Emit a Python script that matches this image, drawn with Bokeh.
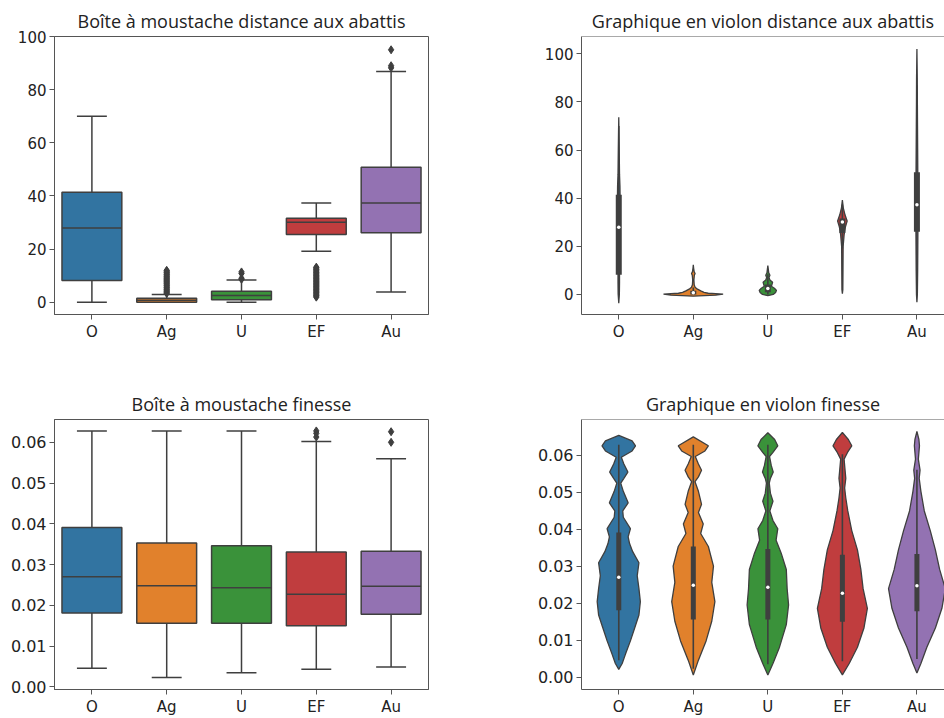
from bokeh.plotting import figure
from bokeh.layouts import column, row
from bokeh.models import FixedTicker, PrintfTickFormatter, Span, Range1d
from bokeh.embed import file_html
from bokeh.resources import INLINE

# ---------------- data ----------------
categories = ["O", "Ag", "U", "EF", "Au"]

# distance aux abattis - box statistics
dist_whislo = [0.0, 0.0, 0.0, 19.2, 3.8]
dist_q1 = [8.2, 0.0, 0.9, 25.5, 26.1]
dist_med = [27.9, 0.75, 2.5, 30.1, 37.3]
dist_q3 = [41.4, 1.5, 4.1, 31.6, 50.8]
dist_whishi = [70.0, 2.9, 8.4, 37.3, 86.8]
dist_fliers_O = []
dist_fliers_Ag = [3.3, 3.6, 4.0, 4.3, 4.7, 5.0, 5.4, 5.7, 6.1, 6.4, 6.8, 7.1, 7.5, 7.8,
                  8.2, 8.5, 8.9, 9.2, 9.6, 9.9, 10.3, 10.6, 11.0, 11.3, 11.7, 12.0]
dist_fliers_U = [8.6, 9.0, 10.8, 11.4]
dist_fliers_EF = [1.9, 2.3, 2.6, 3.0, 3.4, 3.7, 4.1, 4.5, 4.8, 5.2, 5.6, 5.9, 6.3, 6.7,
                  7.0, 7.4, 7.8, 8.1, 8.5, 8.9, 9.2, 9.6, 10.0, 10.3, 10.7, 11.1, 11.4,
                  11.8, 12.2, 12.5, 12.9, 13.2]
dist_fliers_Au = [88.2, 89.0, 95.0]

# finesse - box statistics
fin_whislo = [0.0046, 0.0023, 0.0035, 0.0043, 0.0049]
fin_q1 = [0.0181, 0.0156, 0.0156, 0.0150, 0.0178]
fin_med = [0.0270, 0.0248, 0.0243, 0.0227, 0.0247]
fin_q3 = [0.0391, 0.0353, 0.0346, 0.0331, 0.0333]
fin_whishi = [0.0628, 0.0628, 0.0628, 0.0602, 0.0560]
fin_fliers_O = []
fin_fliers_Ag = []
fin_fliers_U = []
fin_fliers_EF = [0.0613, 0.0622, 0.0628]
fin_fliers_Au = [0.0600, 0.0626]

# violin density profiles (relative half-widths) - distance
vd_O_y = [-3.6, 0, 5, 10, 20, 30, 40, 45, 50, 60, 73.6]
vd_O_w = [0, 0.02, 0.025, 0.025, 0.03, 0.035, 0.045, 0.04, 0.025, 0.015, 0]
vd_Ag_y = [-0.7, -0.3, 0.1, 0.5, 0.9, 1.5, 2.2, 3.0, 4.0, 6.0, 8.0, 8.7, 9.4, 11.0, 12.3]
vd_Ag_w = [0, 0.75, 1.0, 0.5, 0.36, 0.25, 0.14, 0.06, 0.03, 0.02, 0.035, 0.06, 0.03, 0.01, 0]
vd_U_y = [-0.5, 0, 0.8, 1.7, 2.6, 3.4, 4.2, 5.1, 6.0, 7.0, 8.0, 9.0, 10.5, 12.0]
vd_U_w = [0, 0.18, 0.26, 0.29, 0.22, 0.12, 0.14, 0.16, 0.07, 0.04, 0.07, 0.03, 0.015, 0]
vd_EF_y = [0.3, 2, 10, 20, 25, 28, 30.5, 33, 36, 39.2]
vd_EF_w = [0, 0.015, 0.02, 0.025, 0.06, 0.1, 0.16, 0.09, 0.03, 0]
vd_Au_y = [-3.2, 0, 10, 20, 30, 40, 50, 60, 70, 80, 90, 102]
vd_Au_w = [0, 0.015, 0.025, 0.03, 0.035, 0.035, 0.03, 0.025, 0.02, 0.015, 0.012, 0]

# violin density profiles (relative half-widths) - finesse
vf_O_y = [0.0021, 0.0037, 0.0063, 0.0098, 0.0133, 0.0168, 0.0204, 0.0239, 0.0274, 0.0309,
          0.0339, 0.0361, 0.0379, 0.0401, 0.0432, 0.0449, 0.0471, 0.0502, 0.0524, 0.0537,
          0.0554, 0.0576, 0.0594, 0.0611, 0.0625, 0.0638, 0.0653]
vf_O_w = [0, 0.12, 0.24, 0.41, 0.56, 0.71, 0.76, 0.71, 0.65, 0.71, 0.49, 0.38, 0.33, 0.41,
          0.16, 0.14, 0.33, 0.16, 0.07, 0.18, 0.32, 0.18, 0.09, 0.47, 0.59, 0.47, 0]
vf_Ag_y = [0.0006, 0.0046, 0.0098, 0.0151, 0.0204, 0.0256, 0.0300, 0.0353, 0.0388, 0.0414,
           0.0445, 0.0467, 0.0502, 0.0528, 0.0541, 0.0559, 0.0576, 0.0596, 0.0611, 0.0625,
           0.0649]
vf_Ag_w = [0, 0.18, 0.45, 0.65, 0.76, 0.65, 0.71, 0.53, 0.26, 0.35, 0.18, 0.29, 0.18, 0.06,
           0.18, 0.29, 0.18, 0.07, 0.41, 0.53, 0]
vf_U_y = [0.0006, 0.0037, 0.0081, 0.0142, 0.0195, 0.0239, 0.0291, 0.0335, 0.0370, 0.0401,
          0.0423, 0.0449, 0.0475, 0.0497, 0.0524, 0.0537, 0.0554, 0.0572, 0.0596, 0.0607,
          0.0625, 0.0642, 0.0660]
vf_U_w = [0, 0.18, 0.41, 0.65, 0.73, 0.68, 0.65, 0.47, 0.29, 0.35, 0.18, 0.07, 0.18, 0.09,
          0.05, 0.09, 0.19, 0.12, 0.06, 0.18, 0.35, 0.24, 0]
vf_EF_y = [0.0006, 0.0037, 0.0081, 0.0133, 0.0186, 0.0239, 0.0291, 0.0344, 0.0396, 0.0449,
           0.0484, 0.0511, 0.0537, 0.0563, 0.0589, 0.0607, 0.0625, 0.0642, 0.0661]
vf_EF_w = [0, 0.24, 0.53, 0.76, 0.88, 0.73, 0.65, 0.53, 0.33, 0.19, 0.12, 0.08, 0.12, 0.09,
           0.06, 0.18, 0.33, 0.21, 0]
vf_Au_y = [0.0011, 0.0037, 0.0081, 0.0133, 0.0186, 0.0239, 0.0291, 0.0344, 0.0396, 0.0449,
           0.0502, 0.0537, 0.0559, 0.0589, 0.0625, 0.0642, 0.0664]
vf_Au_w = [0, 0.14, 0.35, 0.65, 0.88, 1.0, 0.8, 0.65, 0.47, 0.26, 0.14, 0.08, 0.11, 0.05,
           0.09, 0.07, 0]

dist_ticks = [0, 20, 40, 60, 80, 100]
fin_ticks = [0.0, 0.01, 0.02, 0.03, 0.04, 0.05, 0.06]

# ---------------- style ----------------
PALETTE = ["#3274a1", "#e1812c", "#3a923a", "#c03d3e", "#9372b2"]
EDGE = "#3f3f3f"
AXC = "#555555"
TXT = "#222222"
idx = list(range(len(categories)))


def make_fig(title, width, height, bl, br, bt, bb, xr, yr, yticks, yfmt, ylab_size,
             open_right, title_offset):
    p = figure(width=width, height=height, output_backend="svg", toolbar_location=None,
               x_range=Range1d(*xr), y_range=Range1d(*yr),
               min_border_left=bl, min_border_right=br, min_border_top=bt,
               min_border_bottom=bb)
    p.title.text = title
    p.title.text_font = "Open Sans"
    p.title.text_font_size = "18px"
    p.title.text_font_style = "normal"
    p.title.text_color = TXT
    p.title.align = "center"
    p.title.standoff = 7
    p.title.offset = title_offset
    p.grid.visible = False
    p.background_fill_color = "white"
    p.border_fill_color = "white"
    p.xaxis.ticker = FixedTicker(ticks=idx)
    p.xaxis.major_label_overrides = {i: c for i, c in enumerate(categories)}
    p.yaxis.ticker = FixedTicker(ticks=yticks)
    if yfmt:
        p.yaxis.formatter = PrintfTickFormatter(format=yfmt)
    for ax in (p.xaxis, p.yaxis):
        ax.axis_line_color = AXC
        ax.axis_line_width = 1
        ax.major_tick_line_color = AXC
        ax.minor_tick_line_color = None
        ax.major_tick_out = 5
        ax.major_tick_in = 0
        ax.major_label_text_font = "DejaVu Sans"
        ax.major_label_text_color = TXT
        ax.major_label_standoff = 3
    p.xaxis.major_label_text_font_size = "15px"
    p.yaxis.major_label_text_font_size = ylab_size
    if open_right:
        p.outline_line_color = None
        p.add_layout(Span(location=yr[1], dimension="width", line_color=AXC, line_width=1))
    else:
        p.outline_line_color = AXC
        p.outline_line_alpha = 1
    return p


def draw_box(p, lo, q1, med, q3, hi, fliers):
    p.segment(x0=idx, y0=q3, x1=idx, y1=hi, line_color=EDGE, line_width=1.5)
    p.segment(x0=idx, y0=q1, x1=idx, y1=lo, line_color=EDGE, line_width=1.5)
    p.segment(x0=[i - 0.2 for i in idx], y0=hi, x1=[i + 0.2 for i in idx], y1=hi,
              line_color=EDGE, line_width=1.5)
    p.segment(x0=[i - 0.2 for i in idx], y0=lo, x1=[i + 0.2 for i in idx], y1=lo,
              line_color=EDGE, line_width=1.5)
    p.vbar(x=idx, bottom=q1, top=q3, width=0.8, fill_color=PALETTE, line_color=EDGE,
           line_width=1.5)
    p.segment(x0=[i - 0.4 for i in idx], y0=med, x1=[i + 0.4 for i in idx], y1=med,
              line_color=EDGE, line_width=1.5)
    fx, fy = [], []
    for i, fl in enumerate(fliers):
        fx += [i] * len(fl)
        fy += fl
    p.scatter(x=fx, y=fy, marker="diamond", size=8, fill_color=EDGE, line_color=EDGE)


def draw_violin(p, profiles, scale, lo, q1, med, q3, hi, bar_w):
    xs, ys = [], []
    for i, (yv, wv) in enumerate(profiles):
        left = [i - w * scale for w in wv]
        right = [i + w * scale for w in wv]
        xs.append(left + right[::-1])
        ys.append(list(yv) + list(yv)[::-1])
    p.patches(xs=xs, ys=ys, fill_color=PALETTE, line_color=EDGE, line_width=1.3)
    p.segment(x0=idx, y0=lo, x1=idx, y1=hi, line_color=EDGE, line_width=1.6)
    p.segment(x0=idx, y0=q1, x1=idx, y1=q3, line_color=EDGE, line_width=bar_w)
    p.scatter(x=idx, y=med, marker="circle", size=3.5, fill_color="white", line_color=None)


# ---------------- figures ----------------
p1 = make_fig("Boîte à moustache distance aux abattis", 498, 378, 54, 70, 36, 64,
              (-0.5, 4.5), (-4.63, 100.0), dist_ticks, None, "15px", False, 4)
draw_box(p1, dist_whislo, dist_q1, dist_med, dist_q3, dist_whishi,
         [dist_fliers_O, dist_fliers_Ag, dist_fliers_U, dist_fliers_EF, dist_fliers_Au])

p2 = make_fig("Graphique en violon distance aux abattis", 446, 378, 83, 0, 36, 64,
              (-0.5, 4.37), (-8.33, 107.2), dist_ticks, None, "15px", True, 8)
draw_violin(p2, [(vd_O_y, vd_O_w), (vd_Ag_y, vd_Ag_w), (vd_U_y, vd_U_w),
                 (vd_EF_y, vd_EF_w), (vd_Au_y, vd_Au_w)], 0.40,
            dist_whislo, dist_q1, dist_med, dist_q3, dist_whishi, 6)

p3 = make_fig("Boîte à moustache finesse", 498, 340, 54, 70, 41, 24,
              (-0.5, 4.5), (-0.00064, 0.0656), fin_ticks, "%.2f", "16px", False, 4)
draw_box(p3, fin_whislo, fin_q1, fin_med, fin_q3, fin_whishi,
         [fin_fliers_O, fin_fliers_Ag, fin_fliers_U, fin_fliers_EF, fin_fliers_Au])

p4 = make_fig("Graphique en violon finesse", 446, 340, 83, 0, 41, 24,
              (-0.5, 4.37), (-0.00333, 0.0696), fin_ticks, "%.2f", "16px", True, 4)
draw_violin(p4, [(vf_O_y, vf_O_w), (vf_Ag_y, vf_Ag_w), (vf_U_y, vf_U_w),
                 (vf_EF_y, vf_EF_w), (vf_Au_y, vf_Au_w)], 0.381,
            fin_whislo, fin_q1, fin_med, fin_q3, fin_whishi, 5)

layout = column(row(p1, p2), row(p3, p4))
open("out.html", "w").write(file_html(layout, INLINE))
